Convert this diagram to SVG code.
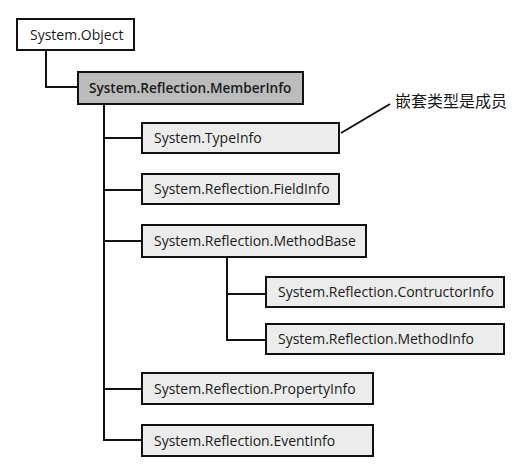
<svg xmlns="http://www.w3.org/2000/svg" width="532" height="470" viewBox="0 0 532 470">
<style>
  .box { stroke: #111; stroke-width: 2; }
  .base { fill: #ffffff; }
  .main { fill: #bcbcbc; }
  .sub { fill: #ececec; }
  .lbl { font-family: "Open Sans", "Noto Sans", sans-serif; font-size: 14px; fill: #1a1a1a; }
  .bold { font-weight: 600; font-size: 13.6px; }
  .wire { fill: none; stroke: #111; stroke-width: 2; }
  .note { font-family: "Noto Sans CJK SC", sans-serif; font-size: 16px; fill: #1a1a1a; }
</style>
<rect width="532" height="470" fill="#ffffff"/>
<g id="connectors">
  <polyline class="wire" points="46,50 46,87 78,87"/>
  <polyline class="wire" points="104,104 104,440 142,440"/>
  <line class="wire" x1="104" y1="138" x2="142" y2="138"/>
  <line class="wire" x1="104" y1="190" x2="142" y2="190"/>
  <line class="wire" x1="104" y1="241" x2="142" y2="241"/>
  <line class="wire" x1="104" y1="389" x2="142" y2="389"/>
  <polyline class="wire" points="227,257 227,340 266,340"/>
  <line class="wire" x1="227" y1="294" x2="266" y2="294"/>
  <line class="wire" x1="341" y1="133" x2="390" y2="104"/>
</g>
<g id="object">
  <rect class="box base" x="17" y="19" width="117" height="31"/>
  <text class="lbl" x="30" y="40">System.Object</text>
</g>
<g id="memberinfo">
  <rect class="box main" x="78" y="72" width="225" height="32"/>
  <text class="lbl bold" x="89" y="93">System.Reflection.MemberInfo</text>
</g>
<g id="typeinfo">
  <rect class="box sub" x="142" y="123" width="197" height="30"/>
  <text class="lbl" x="154" y="143">System.TypeInfo</text>
</g>
<g id="fieldinfo">
  <rect class="box sub" x="142" y="174" width="197" height="30"/>
  <text class="lbl" x="154" y="194">System.Reflection.FieldInfo</text>
</g>
<g id="methodbase">
  <rect class="box sub" x="142" y="225" width="224" height="32"/>
  <text class="lbl" x="154" y="246">System.Reflection.MethodBase</text>
</g>
<g id="constructorinfo">
  <rect class="box sub" x="266" y="277" width="238" height="30"/>
  <text class="lbl" x="278" y="297">System.Reflection.ContructorInfo</text>
</g>
<g id="methodinfo">
  <rect class="box sub" x="266" y="324" width="238" height="30"/>
  <text class="lbl" x="278" y="344">System.Reflection.MethodInfo</text>
</g>
<g id="propertyinfo">
  <rect class="box sub" x="142" y="373" width="231" height="31"/>
  <text class="lbl" x="154" y="394">System.Reflection.PropertyInfo</text>
</g>
<g id="eventinfo">
  <rect class="box sub" x="142" y="425" width="231" height="31"/>
  <text class="lbl" x="154" y="446">System.Reflection.EventInfo</text>
</g>
<g id="note">
  <text class="note" x="395" y="107">嵌套类型是成员</text>
</g>
</svg>
